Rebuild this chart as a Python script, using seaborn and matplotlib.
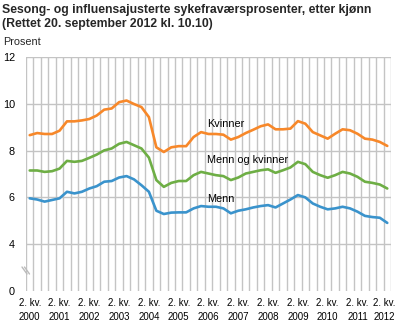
import matplotlib
matplotlib.use("Agg")
import matplotlib.pyplot as plt
import matplotlib.transforms as mtrans
import seaborn as sns
import pandas as pd
from matplotlib.lines import Line2D

sns.set_theme(style="white")
plt.rcParams['font.family'] = ['Liberation Sans', 'DejaVu Sans']

years = list(range(2000, 2013))
quarters = [f"{y}K{q}" for y in range(2000, 2013) for q in (2, 3, 4, 1)][:49]

kvinner = [8.66, 8.75, 8.71, 8.71, 8.85, 9.25, 9.25, 9.29, 9.35, 9.50, 9.75, 9.80,
           10.07, 10.14, 9.99, 9.86, 9.43, 8.14, 7.94, 8.14, 8.19, 8.19, 8.58, 8.79,
           8.71, 8.71, 8.68, 8.47, 8.58, 8.75, 8.89, 9.04, 9.12, 8.91, 8.91, 8.94,
           9.26, 9.15, 8.79, 8.65, 8.51, 8.72, 8.91, 8.87, 8.72, 8.51, 8.47, 8.37, 8.20]
begge = [7.15, 7.15, 7.09, 7.12, 7.23, 7.56, 7.52, 7.56, 7.69, 7.83, 8.01, 8.09,
         8.29, 8.37, 8.23, 8.09, 7.70, 6.74, 6.45, 6.62, 6.70, 6.70, 6.95, 7.09,
         7.02, 6.95, 6.91, 6.74, 6.85, 7.02, 7.09, 7.16, 7.20, 7.05, 7.16, 7.28,
         7.52, 7.42, 7.09, 6.95, 6.84, 6.95, 7.09, 7.02, 6.88, 6.67, 6.62, 6.55, 6.38]
menn = [5.96, 5.91, 5.82, 5.89, 5.96, 6.24, 6.17, 6.24, 6.38, 6.48, 6.67, 6.70,
        6.85, 6.91, 6.77, 6.52, 6.24, 5.43, 5.29, 5.35, 5.36, 5.36, 5.53, 5.63,
        5.60, 5.60, 5.53, 5.32, 5.43, 5.49, 5.57, 5.63, 5.67, 5.57, 5.74, 5.91,
        6.10, 6.00, 5.74, 5.60, 5.49, 5.53, 5.60, 5.53, 5.39, 5.21, 5.16, 5.13, 4.91]

series_names = ["Kvinner", "Menn og kvinner", "Menn"]
y_ticks = [2, 4, 6, 8, 10, 12]
y_labels = ["0", "4", "6", "8", "10", "12"]

rows = []
for name, vals in zip(series_names, [kvinner, begge, menn]):
    for i, v in enumerate(vals):
        rows.append({"idx": i, "kvartal": quarters[i], "verdi": v, "serie": name})
df = pd.DataFrame(rows)

colors = {"Kvinner": "#F7882A", "Menn og kvinner": "#6EAE45", "Menn": "#3A93CC"}

fig = plt.figure(figsize=(3.97, 3.31), dpi=100)
ax = fig.add_axes([26/397, 1 - 291/331, (391 - 26)/397, (291 - 57)/331])

n = len(quarters)
for i in range(n + 1):
    ax.axvline(i - 0.5, color="#C4C4C4", lw=1.0, zorder=0)
for t in y_ticks[1:]:
    ax.axhline(t, color="#C4C4C4", lw=1.0, zorder=0)

sns.lineplot(data=df, x="idx", y="verdi", hue="serie", palette=colors,
             linewidth=1.9, legend=False, ax=ax, zorder=3)

ax.set_xlim(-0.5, n - 0.5)
ax.set_ylim(2, 12)
ax.set_yticks(y_ticks)
ax.set_yticklabels(y_labels, fontsize=7.8, color="black")
xt = list(range(0, n, 4))
ax.set_xticks(xt)
ax.set_xticklabels([f"2. kv.\n{years[k // 4]}" for k in xt], fontsize=7.0,
                   color="black", linespacing=1.5)
ax.tick_params(axis="both", length=0)
ax.tick_params(axis="x", pad=5)
ax.tick_params(axis="y", pad=8)
ax.set_xlabel("")
ax.set_ylabel("")
for s in ax.spines.values():
    s.set_visible(False)

# nudge last x label slightly left so it stays inside the figure
last = ax.get_xticklabels()[-1]
last.set_transform(last.get_transform() + mtrans.ScaledTranslation(-3/100, 0, fig.dpi_scale_trans))

ax.text(23.8, 9.12, "Kvinner", fontsize=7.8, va="center", ha="left", color="black")
ax.text(23.8, 7.59, "Menn og kvinner", fontsize=7.8, va="center", ha="left", color="black")
ax.text(23.8, 5.95, "Menn", fontsize=7.8, va="center", ha="left", color="black")

fig.text(2/397, 1 - 10/331, "Sesong- og influensajusterte sykefraværsprosenter, etter kjønn",
         fontsize=8.8, fontweight="bold", va="center", ha="left")
fig.text(2/397, 1 - 24/331, "(Rettet 20. september 2012 kl. 10.10)",
         fontsize=8.8, fontweight="bold", va="center", ha="left")
fig.text(3/397, 1 - 42/331, "Prosent", fontsize=7.8, va="center", ha="left")

for dx in (0, 2.5):
    fig.add_artist(Line2D([(22 + dx)/397, (27 + dx)/397], [1 - 267/331, 1 - 274/331],
                          color="#BBBBBB", lw=1.0, transform=fig.transFigure))

fig.savefig("out.png", dpi=100)
